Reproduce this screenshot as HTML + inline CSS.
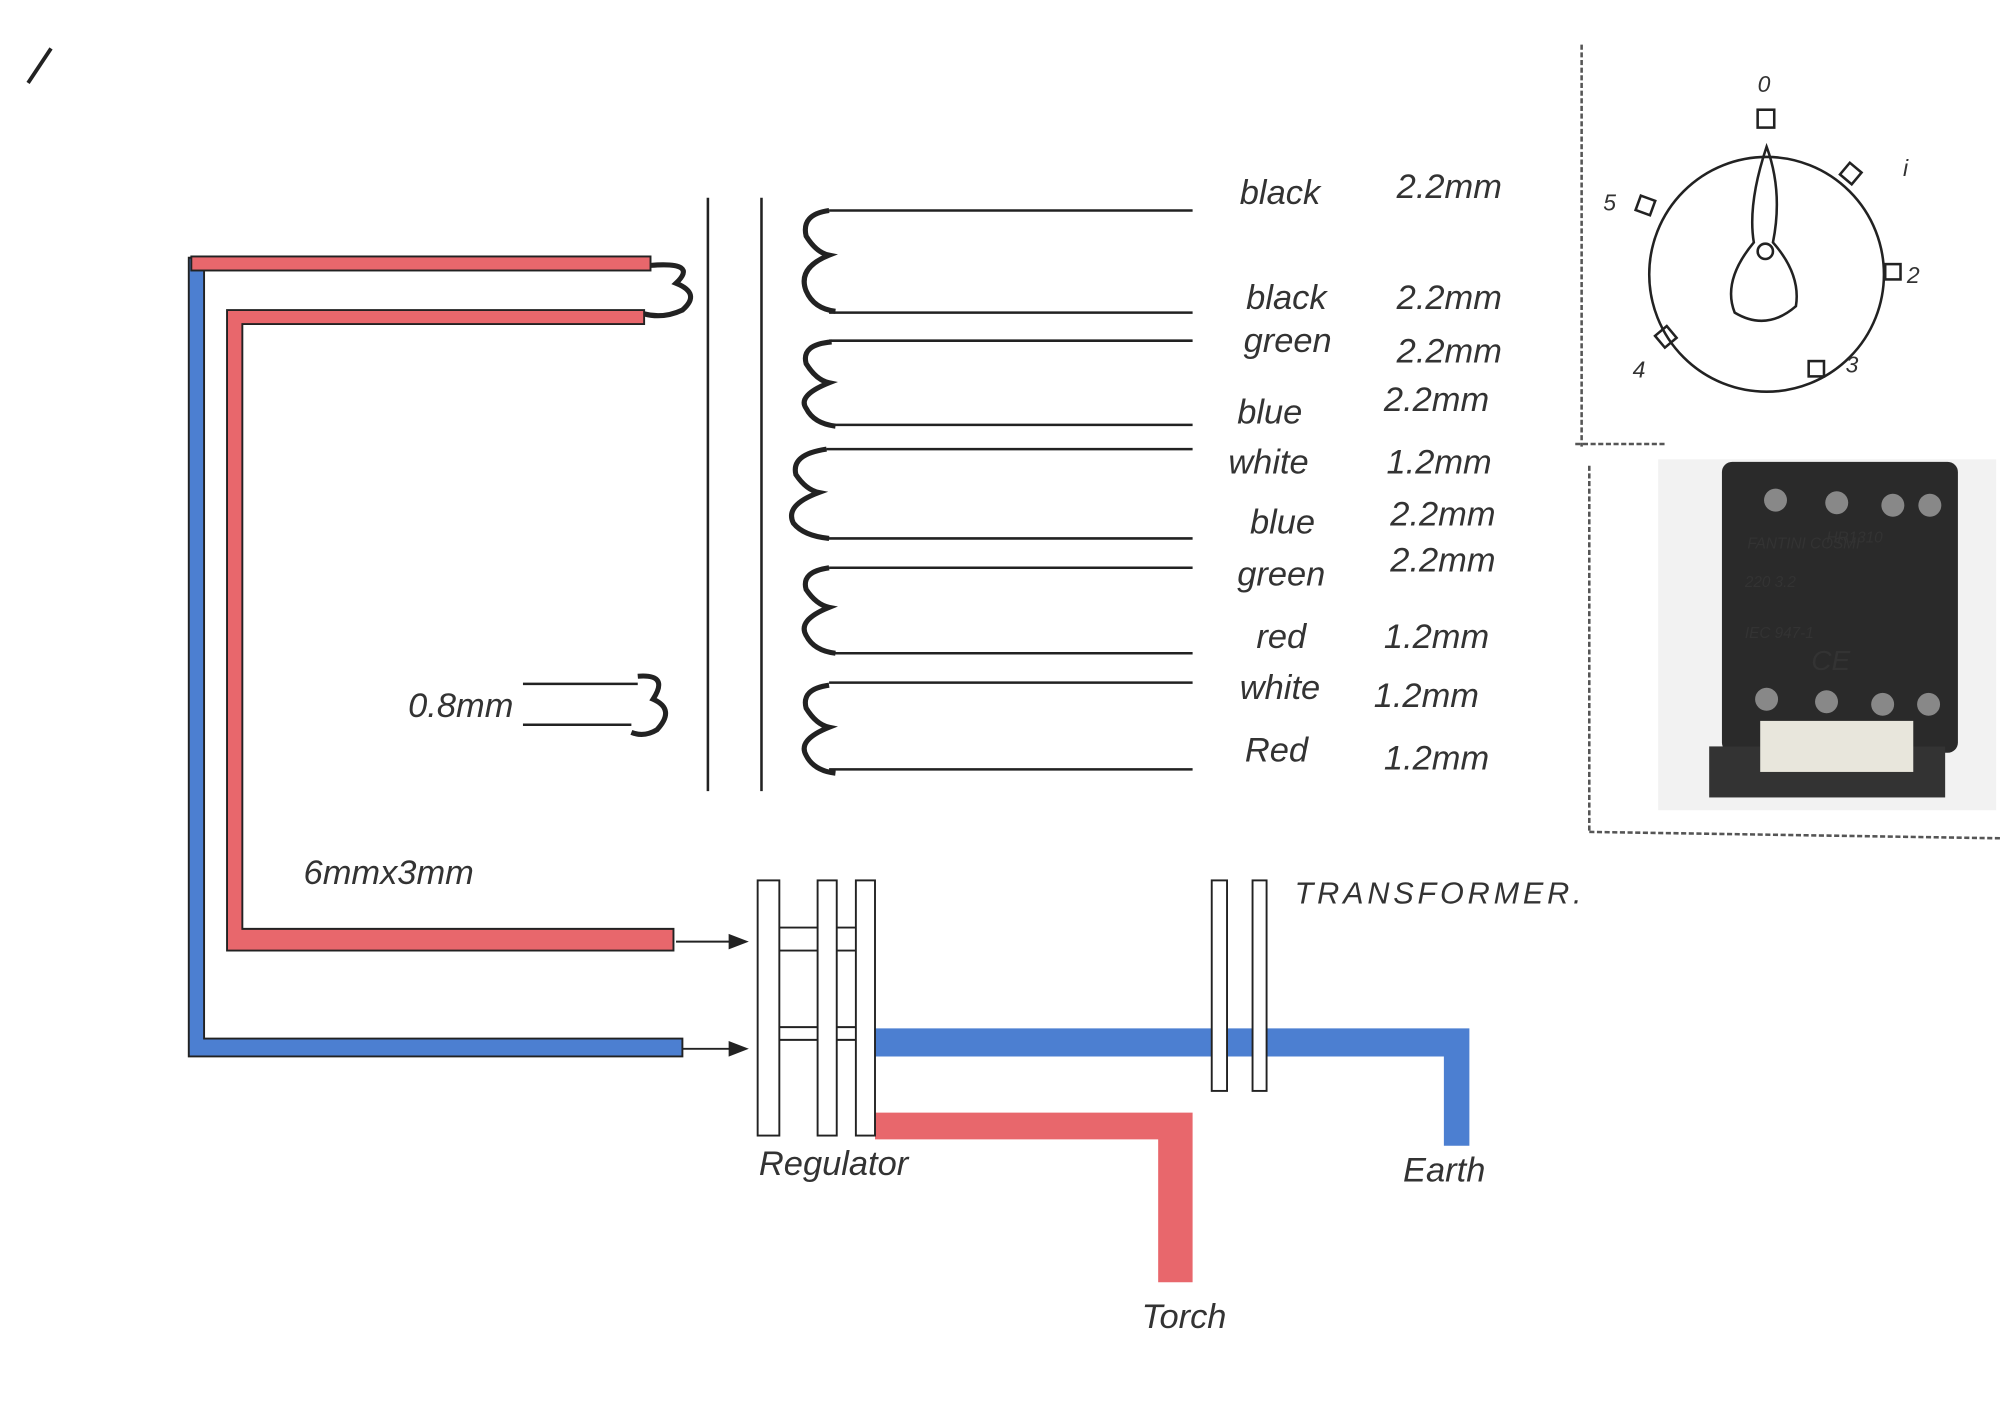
<!DOCTYPE html>
<html><head><meta charset="utf-8"><style>
html,body{margin:0;padding:0;background:#fff;}
svg{display:block;}
text{font-family:"Liberation Sans",sans-serif;font-style:italic;fill:#333;}
</style></head><body>
<svg width="2000" height="1415" viewBox="0 0 1568 1109" preserveAspectRatio="none" xmlns="http://www.w3.org/2000/svg">
<rect width="1568" height="1109" fill="#fff"/>
<line x1="22" y1="65" x2="40" y2="38" stroke="#222" stroke-width="3"/>
<path d="M148 202 H160 V814 H535 V828 H148 Z" fill="#4c7fd1" stroke="#222" stroke-width="1.5"/>
<rect x="150" y="201" width="360" height="11" fill="#e8676c" stroke="#222" stroke-width="1.5"/>
<path d="M178 243 H505 V254 H190 V728 H528 V745 H178 Z" fill="#e8676c" stroke="#222" stroke-width="1.5"/>
<path d="M510 208 Q548 205 530 222 Q550 230 535 243 Q520 250 505 246" fill="none" stroke="#222" stroke-width="4"/>
<line x1="410" y1="536" x2="500" y2="536" stroke="#222" stroke-width="2"/>
<line x1="410" y1="568" x2="495" y2="568" stroke="#222" stroke-width="2"/>
<path d="M500 530 Q525 528 512 548 Q530 556 515 572 Q505 578 495 574" fill="none" stroke="#222" stroke-width="4"/>
<line x1="555" y1="155" x2="555" y2="620" stroke="#222" stroke-width="2"/>
<line x1="597" y1="155" x2="597" y2="620" stroke="#222" stroke-width="2"/>
<g fill="none" stroke="#222" stroke-width="4">
<path d="M650 165 Q628 168 632 185 Q640 198 650 200 Q625 210 632 228 Q638 242 655 244"/>
<path d="M652 268 Q628 270 632 285 Q640 298 650 300 Q625 310 632 320 Q638 332 655 334"/>
<path d="M648 352 Q620 356 624 372 Q632 384 642 386 Q615 396 622 410 Q630 420 650 422"/>
<path d="M650 445 Q628 448 632 462 Q640 474 650 476 Q625 486 632 498 Q638 510 655 512"/>
<path d="M650 537 Q628 540 632 555 Q640 568 650 570 Q625 580 632 592 Q638 604 655 606"/>
</g>
<g stroke="#222" stroke-width="2">
<line x1="650" y1="165" x2="935" y2="165"/>
<line x1="650" y1="245" x2="935" y2="245"/>
<line x1="650" y1="267" x2="935" y2="267"/>
<line x1="650" y1="333" x2="935" y2="333"/>
<line x1="648" y1="352" x2="935" y2="352"/>
<line x1="648" y1="422" x2="935" y2="422"/>
<line x1="650" y1="445" x2="935" y2="445"/>
<line x1="650" y1="512" x2="935" y2="512"/>
<line x1="650" y1="535" x2="935" y2="535"/>
<line x1="650" y1="603" x2="935" y2="603"/>
</g>
<g font-size="27">
<text x="972" y="160">black</text><text x="1095" y="155">2.2mm</text>
<text x="977" y="242">black</text><text x="1095" y="242">2.2mm</text>
<text x="975" y="276">green</text><text x="1095" y="284">2.2mm</text>
<text x="970" y="332">blue</text><text x="1085" y="322">2.2mm</text>
<text x="963" y="371">white</text><text x="1087" y="371">1.2mm</text>
<text x="980" y="418">blue</text><text x="1090" y="412">2.2mm</text>
<text x="970" y="459">green</text><text x="1090" y="448">2.2mm</text>
<text x="985" y="508">red</text><text x="1085" y="508">1.2mm</text>
<text x="972" y="548">white</text><text x="1077" y="554">1.2mm</text>
<text x="976" y="597">Red</text><text x="1085" y="603">1.2mm</text>
<text x="320" y="562">0.8mm</text>
<text x="238" y="693">6mmx3mm</text>
<text x="595" y="921">Regulator</text>
<text x="1100" y="926">Earth</text>
<text x="895" y="1041">Torch</text>
</g>
<text x="1015" y="708" font-size="24" font-style="normal" fill="#444" letter-spacing="3">TRANSFORMER.</text>
<g stroke="#222" stroke-width="1.5" fill="#222">
<line x1="530" y1="738" x2="575" y2="738"/><path d="M585 738 L572 733 L572 743 Z"/>
<line x1="535" y1="822" x2="575" y2="822"/><path d="M585 822 L572 817 L572 827 Z"/>
</g>
<path d="M686 806 H1152 V898 H1132 V828 H686 Z" fill="#4c7fd1"/>
<path d="M686 872 H935 V1005 H908 V893 H686 Z" fill="#e8676c"/>
<g fill="#fff" stroke="#222" stroke-width="1.5">
<rect x="594" y="690" width="17" height="200"/>
<rect x="641" y="690" width="15" height="200"/>
<rect x="671" y="690" width="15" height="200"/>
<rect x="950" y="690" width="12" height="165"/>
<rect x="982" y="690" width="11" height="165"/>
</g>
<g stroke="#222" stroke-width="1.5">
<line x1="611" y1="727" x2="641" y2="727"/><line x1="611" y1="745" x2="641" y2="745"/>
<line x1="656" y1="727" x2="671" y2="727"/><line x1="656" y1="745" x2="671" y2="745"/>
<line x1="611" y1="805" x2="641" y2="805"/><line x1="611" y1="815" x2="641" y2="815"/>
<line x1="656" y1="805" x2="671" y2="805"/><line x1="656" y1="815" x2="671" y2="815"/>
</g>
<g stroke="#555" stroke-width="2" fill="none" stroke-dasharray="4 2">
<line x1="1240" y1="35" x2="1240" y2="350"/>
<line x1="1235" y1="348" x2="1305" y2="348"/>
<line x1="1246" y1="365" x2="1246" y2="652"/>
<line x1="1246" y1="652" x2="1568" y2="657"/>
</g>
<g stroke="#222" stroke-width="2" fill="none">
<circle cx="1385" cy="215" r="92"/>
<path d="M1385 115 Q1370 160 1375 190 Q1350 220 1360 245 Q1385 260 1408 240 Q1412 215 1390 190 Q1398 150 1385 115 Z"/>
<circle cx="1384" cy="197" r="6"/>
<rect x="1378" y="86" width="13" height="14"/>
<rect x="1445" y="130" width="12" height="12" transform="rotate(40 1451 136)"/>
<rect x="1478" y="207" width="12" height="12"/>
<rect x="1418" y="283" width="12" height="12"/>
<rect x="1300" y="258" width="12" height="12" transform="rotate(-40 1306 264)"/>
<rect x="1284" y="155" width="12" height="12" transform="rotate(20 1290 161)"/>
</g>
<g font-size="18" fill="#333">
<text x="1378" y="72">0</text><text x="1492" y="138">i</text><text x="1495" y="222">2</text>
<text x="1447" y="292">3</text><text x="1280" y="296">4</text><text x="1257" y="165">5</text>
</g>
<rect x="1300" y="360" width="265" height="275" fill="#f2f2f2"/>
<rect x="1350" y="362" width="185" height="228" rx="8" fill="#2a2a2a"/>
<rect x="1340" y="585" width="185" height="40" fill="#333"/>
<rect x="1380" y="565" width="120" height="40" fill="#e8e6dc"/>
<g fill="#888">
<circle cx="1392" cy="392" r="9"/><circle cx="1440" cy="394" r="9"/><circle cx="1484" cy="396" r="9"/><circle cx="1513" cy="396" r="9"/>
<circle cx="1385" cy="548" r="9"/><circle cx="1432" cy="550" r="9"/><circle cx="1476" cy="552" r="9"/><circle cx="1512" cy="552" r="9"/>
</g>
<g font-size="12" fill="#d8c060" font-style="normal">
<text x="1432" y="425">HR1310</text><text x="1370" y="430">FANTINI COSMI</text>
<text x="1368" y="460" fill="#bbb">220 3.2</text><text x="1368" y="500" fill="#bbb">IEC 947-1</text>
<text x="1420" y="525" fill="#ddd" font-size="22">CE</text>
</g>
</svg>
</body></html>
